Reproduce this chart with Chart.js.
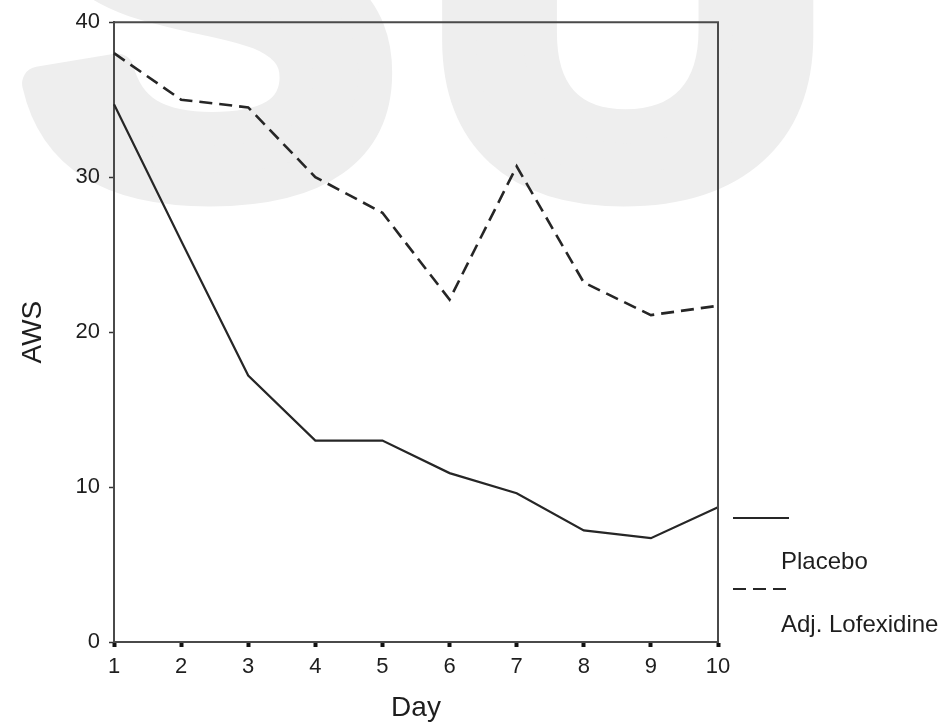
<!DOCTYPE html>
<html>
<head>
<meta charset="utf-8">
<title>AWS by day</title>
<script src="https://cdn.jsdelivr.net/npm/chart.js@4.4.1/dist/chart.umd.min.js"></script>
<style>
  html, body { margin: 0; padding: 0; background: #ffffff; }
  #wrap { width: 943px; height: 725px; }
</style>
</head>
<body>
<div id="wrap"><canvas id="chart" width="943" height="725"></canvas></div>
<script>
// Days of treatment and mean AWS score per group
const days = ['1', '2', '3', '4', '5', '6', '7', '8', '9', '10'];
const placebo = [34.7, 25.9, 17.2, 13.0, 13.0, 10.9, 9.6, 7.2, 6.7, 8.7];
const lofexidine = [38.0, 35.0, 34.5, 30.0, 27.7, 22.1, 30.7, 23.2, 21.1, 21.7];
const seriesNames = ['Placebo', 'Adj. Lofexidine'];
const yMin = 0;
const yMax = 40;
const yStep = 10;
const backdropText = ['S', 'U'];

const FONT = '"Liberation Sans", Arial, Helvetica, sans-serif';
const INK = '#1e1e1e';
const FRAME = '#4a4a4a';

// Large pale letters behind the plot
const backdrop = {
  id: 'backdrop',
  beforeDraw(chart) {
    const ctx = chart.ctx;
    ctx.save();
    ctx.fillStyle = '#ffffff';
    ctx.fillRect(0, 0, chart.width, chart.height);
    ctx.fillStyle = '#eeeeee';
    ctx.strokeStyle = '#eeeeee';
    ctx.lineWidth = 34;
    ctx.lineJoin = 'round';
    ctx.font = 'bold 561px ' + FONT;
    ctx.textAlign = 'center';
    ctx.textBaseline = 'alphabetic';
    const centers = [210, 628];
    backdropText.forEach((ch, i) => {
      ctx.fillText(ch, centers[i], 184);
      ctx.strokeText(ch, centers[i], 184);
    });
    ctx.restore();
  }
};

// Top and right edges of the plot box
const frame = {
  id: 'frame',
  afterDatasetsDraw(chart) {
    const { ctx, chartArea: a } = chart;
    ctx.save();
    ctx.strokeStyle = FRAME;
    ctx.lineWidth = 2;
    ctx.beginPath();
    ctx.moveTo(a.left, a.top);
    ctx.lineTo(a.right, a.top);
    ctx.lineTo(a.right, a.bottom);
    ctx.stroke();
    ctx.restore();
  }
};

// Line-sample legend stacked to the right of the plot
const sideLegend = {
  id: 'sideLegend',
  afterDraw(chart) {
    const { ctx, chartArea: a } = chart;
    const x0 = a.right + 15;
    const x1 = a.right + 71;
    const rows = [
      { lineY: 518, textY: 569 },
      { lineY: 589, textY: 632 }
    ];
    ctx.save();
    chart.data.datasets.forEach((ds, i) => {
      const r = rows[i];
      ctx.strokeStyle = ds.borderColor;
      ctx.lineWidth = 2;
      ctx.setLineDash(ds.borderDash || []);
      ctx.beginPath();
      ctx.moveTo(x0, r.lineY);
      ctx.lineTo(x1, r.lineY);
      ctx.stroke();
      ctx.setLineDash([]);
      ctx.fillStyle = INK;
      ctx.font = '24px ' + FONT;
      ctx.textAlign = 'left';
      ctx.textBaseline = 'alphabetic';
      ctx.fillText(ds.label, a.right + 63, r.textY);
    });
    ctx.restore();
  }
};

new Chart(document.getElementById('chart'), {
  type: 'line',
  data: {
    labels: days,
    datasets: [
      {
        label: seriesNames[0],
        data: placebo,
        borderColor: '#262626',
        borderWidth: 2.2,
        pointRadius: 0,
        tension: 0,
        fill: false
      },
      {
        label: seriesNames[1],
        data: lofexidine,
        borderColor: '#262626',
        borderWidth: 2.6,
        borderDash: [13, 7],
        pointRadius: 0,
        tension: 0,
        fill: false
      }
    ]
  },
  options: {
    responsive: false,
    animation: false,
    events: [],
    layout: { padding: { left: 0, top: 19, right: 225, bottom: 0 } },
    plugins: {
      legend: { display: false },
      tooltip: { enabled: false },
      title: { display: false }
    },
    scales: {
      x: {
        type: 'category',
        offset: false,
        border: { display: true, color: FRAME, width: 2 },
        grid: {
          drawOnChartArea: false,
          drawTicks: true,
          tickLength: 5,
          tickWidth: 4,
          tickColor: '#111111'
        },
        ticks: {
          color: INK,
          font: { family: FONT, size: 22 },
          padding: 7,
          autoSkip: false,
          maxRotation: 0
        },
        title: {
          display: true,
          text: 'Day',
          color: INK,
          font: { family: FONT, size: 28 },
          padding: { top: 0, bottom: 0 }
        },
        afterFit(scale) { scale.height = 83; }
      },
      y: {
        min: yMin,
        max: yMax,
        border: { display: true, color: FRAME, width: 2 },
        grid: {
          drawOnChartArea: false,
          drawTicks: true,
          tickLength: 5,
          tickWidth: 1.5,
          tickColor: '#333333'
        },
        ticks: {
          stepSize: yStep,
          color: INK,
          font: { family: FONT, size: 22 },
          padding: 9
        },
        title: {
          display: true,
          text: 'AWS',
          color: INK,
          font: { family: FONT, size: 28 },
          padding: { top: 16, bottom: 0 }
        },
        afterFit(scale) { scale.width = 114; }
      }
    }
  },
  plugins: [backdrop, frame, sideLegend]
});
</script>
</body>
</html>
